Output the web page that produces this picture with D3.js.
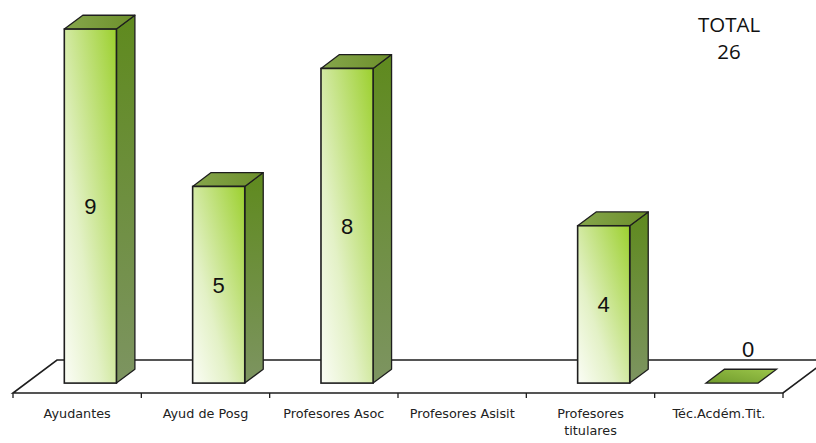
<!DOCTYPE html>
<html>
<head>
<meta charset="utf-8">
<script src="https://cdn.jsdelivr.net/npm/d3@7"></script>
<style>
  html, body { margin: 0; padding: 0; background: #fff; }
  svg { display: block; }
</style>
</head>
<body>
<svg id="chart" width="816" height="443"></svg>
<script>
// Staff by category (null = no data plotted)
const categories = ["Ayudantes", "Ayud de Posg", "Profesores Asoc", "Profesores Asisit", "Profesores titulares", "Téc.Acdém.Tit."];
const values = [9, 5, 8, null, 4, 0];
const totalLabel = ["TOTAL", "26"];

const svg = d3.select("#chart");

// 3D floor geometry
const floorLeft = 13, floorRight = 783, floorFrontY = 393;
const depth = { x: 44, y: -33 };           // full floor depth vector
const barDepthStart = 0.3, barDepthEnd = 0.72; // bar occupies this slice of floor depth
const barWidthRatio = 0.406;

const x = d3.scaleBand().domain(categories).range([floorLeft, floorRight]).paddingInner(0).paddingOuter(0);
const baseY = floorFrontY + depth.y * barDepthStart;
const h = d3.scaleLinear().domain([0, 9]).range([0, 354]);

const bw = x.bandwidth() * barWidthRatio;
const bd = { x: depth.x * (barDepthEnd - barDepthStart), y: depth.y * (barDepthEnd - barDepthStart) };

const defs = svg.append("defs");
const gFront = defs.append("linearGradient").attr("id", "gFront")
  .attr("x1", "0%").attr("y1", "100%").attr("x2", "100%").attr("y2", "0%");
gFront.append("stop").attr("offset", "0%").attr("stop-color", "#fbfdf6");
gFront.append("stop").attr("offset", "35%").attr("stop-color", "#e3f1c6");
gFront.append("stop").attr("offset", "100%").attr("stop-color", "#9cd02e");

const gSide = defs.append("linearGradient").attr("id", "gSide")
  .attr("x1", "0%").attr("y1", "100%").attr("x2", "0%").attr("y2", "0%");
gSide.append("stop").attr("offset", "0%").attr("stop-color", "#7d9461");
gSide.append("stop").attr("offset", "100%").attr("stop-color", "#5f8a1e");

const gTop = defs.append("linearGradient").attr("id", "gTop")
  .attr("x1", "0%").attr("y1", "0%").attr("x2", "100%").attr("y2", "0%");
gTop.append("stop").attr("offset", "0%").attr("stop-color", "#86a64c");
gTop.append("stop").attr("offset", "100%").attr("stop-color", "#6c8f2a");

const gFlat = defs.append("linearGradient").attr("id", "gFlat")
  .attr("x1", "0%").attr("y1", "100%").attr("x2", "100%").attr("y2", "0%");
gFlat.append("stop").attr("offset", "0%").attr("stop-color", "#6f9a2c");
gFlat.append("stop").attr("offset", "100%").attr("stop-color", "#9cc64a");

const stroke = "#1e1e1e";

// Floor
const floor = [
  [floorLeft, floorFrontY],
  [floorRight, floorFrontY],
  [floorRight + depth.x, floorFrontY + depth.y],
  [floorLeft + depth.x, floorFrontY + depth.y]
];
svg.append("path")
  .attr("d", d3.line()(floor) + "Z")
  .attr("fill", "#fff")
  .attr("stroke", stroke)
  .attr("stroke-width", 1.6);

// Axis ticks along the front edge
const edges = categories.map(c => x(c)).concat([floorRight]);
svg.selectAll("line.tick").data(edges).join("line")
  .attr("class", "tick")
  .attr("x1", d => d).attr("x2", d => d)
  .attr("y1", floorFrontY).attr("y2", floorFrontY + 5)
  .attr("stroke", stroke).attr("stroke-width", 1.3);

// Category labels
const lbl = svg.append("g")
  .attr("font-family", "'DejaVu Sans', Verdana, sans-serif")
  .attr("font-size", 12.8)
  .attr("fill", "#222")
  .attr("text-anchor", "middle");
const wrapped = { "Profesores titulares": ["Profesores", "titulares"] };
categories.forEach(c => {
  const lines = wrapped[c] || [c];
  const t = lbl.append("text").attr("x", x(c) + x.bandwidth() / 2).attr("y", 418);
  lines.forEach((ln, i) => t.append("tspan").attr("x", x(c) + x.bandwidth() / 2).attr("dy", i === 0 ? 0 : 17).text(ln));
});

// Bars
const bars = svg.append("g");
categories.forEach((c, i) => {
  const v = values[i];
  if (v === null) return;
  const x0 = x(c) + depth.x * barDepthStart + (x.bandwidth() - bw) / 2;
  const x1 = x0 + bw;
  const yb = baseY;
  const yt = baseY - h(v);
  const g = bars.append("g");
  if (v === 0) {
    g.append("path")
      .attr("d", d3.line()([[x0, yb], [x1, yb], [x1 + bd.x, yb + bd.y], [x0 + bd.x, yb + bd.y]]) + "Z")
      .attr("fill", "url(#gFlat)").attr("stroke", stroke).attr("stroke-width", 1.3);
    svg.append("text")
      .attr("x", x0 + bw / 2 + 16).attr("y", yb - 26)
      .attr("text-anchor", "middle")
      .attr("font-family", "'Liberation Sans', Arial, sans-serif")
      .attr("font-size", 22).attr("fill", "#111")
      .text(v);
    return;
  }
  // side face
  g.append("path")
    .attr("d", d3.line()([[x1, yb], [x1 + bd.x, yb + bd.y], [x1 + bd.x, yt + bd.y], [x1, yt]]) + "Z")
    .attr("fill", "url(#gSide)").attr("stroke", stroke).attr("stroke-width", 1.3).attr("stroke-linejoin", "round");
  // top face
  g.append("path")
    .attr("d", d3.line()([[x0, yt], [x1, yt], [x1 + bd.x, yt + bd.y], [x0 + bd.x, yt + bd.y]]) + "Z")
    .attr("fill", "url(#gTop)").attr("stroke", stroke).attr("stroke-width", 1.3).attr("stroke-linejoin", "round");
  // front face
  g.append("rect")
    .attr("x", x0).attr("y", yt).attr("width", bw).attr("height", yb - yt)
    .attr("fill", "url(#gFront)").attr("stroke", stroke).attr("stroke-width", 1.6);
  // value label
  g.append("text")
    .attr("x", x0 + bw / 2).attr("y", (yt + yb) / 2)
    .attr("dy", "0.36em")
    .attr("text-anchor", "middle")
    .attr("font-family", "'Liberation Sans', Arial, sans-serif")
    .attr("font-size", 22).attr("fill", "#111")
    .text(v);
});

// Total annotation
const tot = svg.append("text")
  .attr("text-anchor", "middle")
  .attr("font-family", "'Open Sans', 'Liberation Sans', sans-serif")
  .attr("font-size", 20.5).attr("fill", "#111");
totalLabel.forEach((t, i) => tot.append("tspan").attr("x", 729).attr("y", 32 + i * 27).text(t));
</script>
</body>
</html>
